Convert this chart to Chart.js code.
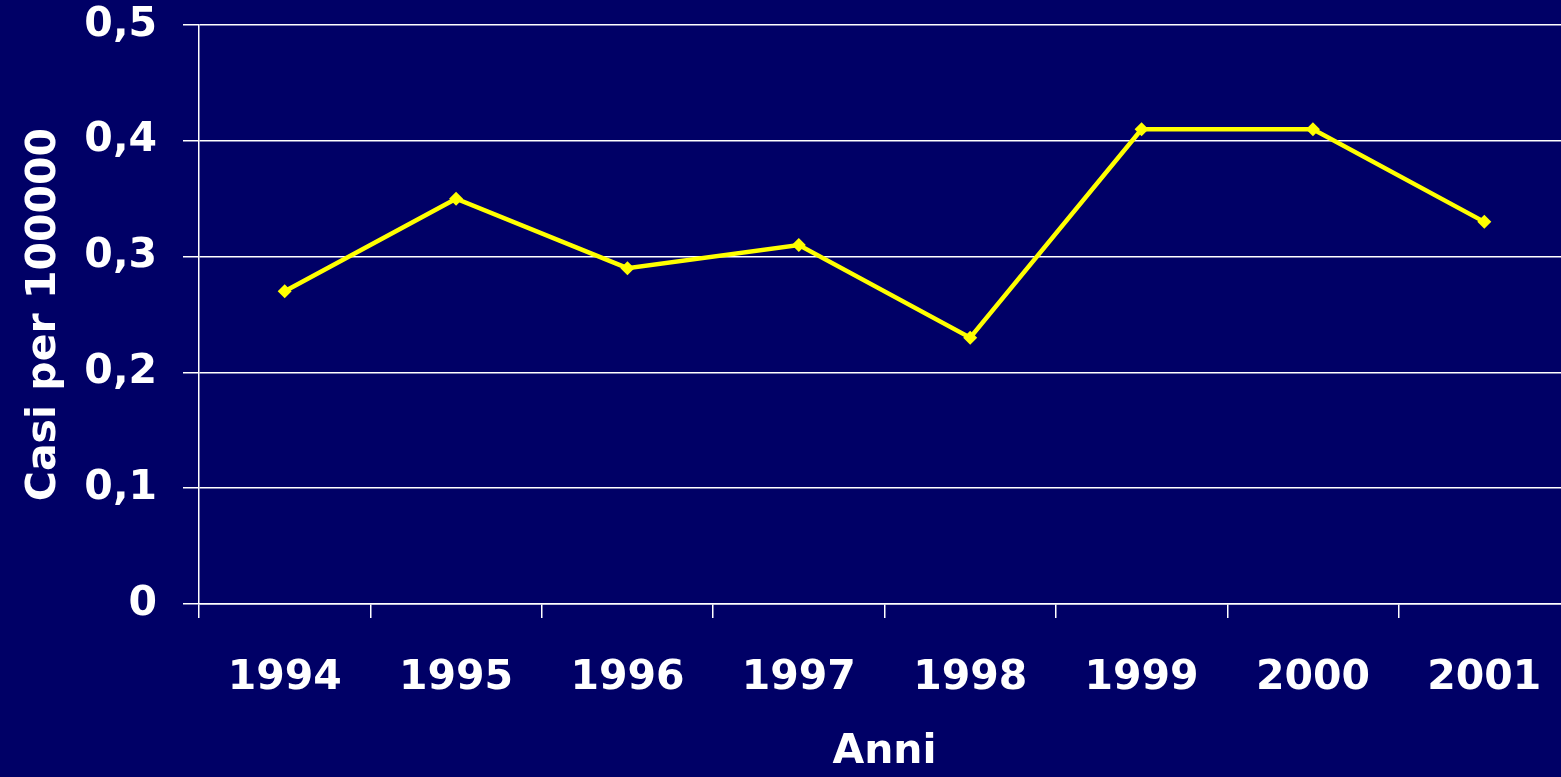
<!DOCTYPE html>
<html>
<head>
<meta charset="utf-8">
<script src="https://cdn.jsdelivr.net/npm/chart.js@4/dist/chart.umd.min.js"></script>
<style>
    html, body { margin: 0; padding: 0; background: #000066; overflow: hidden; }
    #wrap { width: 1577px; height: 777px; position: relative; }
</style>
</head>
<body>
<div id="wrap"><canvas id="chart"></canvas></div>
<script>
// Data
const years = ['1994', '1995', '1996', '1997', '1998', '1999', '2000', '2001'];
const casi = [0.27, 0.35, 0.29, 0.31, 0.23, 0.41, 0.41, 0.33];
const yTickLabels = ['0', '0,1', '0,2', '0,3', '0,4', '0,5'];

const font = { family: '"DejaVu Sans", Verdana, sans-serif', weight: 'bold', size: 41 };

new Chart(document.getElementById('chart'), {
    type: 'line',
    data: {
        labels: years,
        datasets: [{
            data: casi,
            borderColor: '#ffff00',
            backgroundColor: '#ffff00',
            borderWidth: 4.5,
            pointStyle: 'rectRot',
            pointRadius: 7,
            pointBorderWidth: 0,
            tension: 0
        }]
    },
    options: {
        responsive: true,
        maintainAspectRatio: false,
        animation: false,
        layout: { padding: { top: 25, left: 0, right: 0, bottom: 0 } },
        plugins: { legend: { display: false }, tooltip: { enabled: false } },
        scales: {
            y: {
                min: 0,
                max: 0.5,
                ticks: {
                    stepSize: 0.1,
                    color: '#ffffff',
                    font: font,
                    padding: 26,
                    callback: (v, i) => yTickLabels[i]
                },
                grid: { color: '#ffffff', lineWidth: 1.5, tickLength: 16 },
                border: { color: '#ffffff', width: 1.5 },
                title: {
                    display: true,
                    text: 'Casi per 100000',
                    color: '#ffffff',
                    font: font,
                    padding: { top: 20, bottom: 0 }
                },
                afterFit: s => { s.width = 199; s.paddingTop = 0; s.paddingBottom = 0; }
            },
            x: {
                offset: true,
                ticks: { color: '#ffffff', font: font, padding: 36, maxRotation: 0 },
                grid: { color: '#ffffff', lineWidth: 1.5, drawOnChartArea: false, tickLength: 14, offset: true },
                border: { color: '#ffffff', width: 1.5 },
                title: {
                    display: true,
                    text: 'Anni',
                    color: '#ffffff',
                    font: font,
                    padding: { top: 20, bottom: 0 }
                },
                afterFit: s => { s.height = 173; s.paddingLeft = 0; s.paddingRight = 0; }
            }
        }
    }
});
</script>
</body>
</html>
